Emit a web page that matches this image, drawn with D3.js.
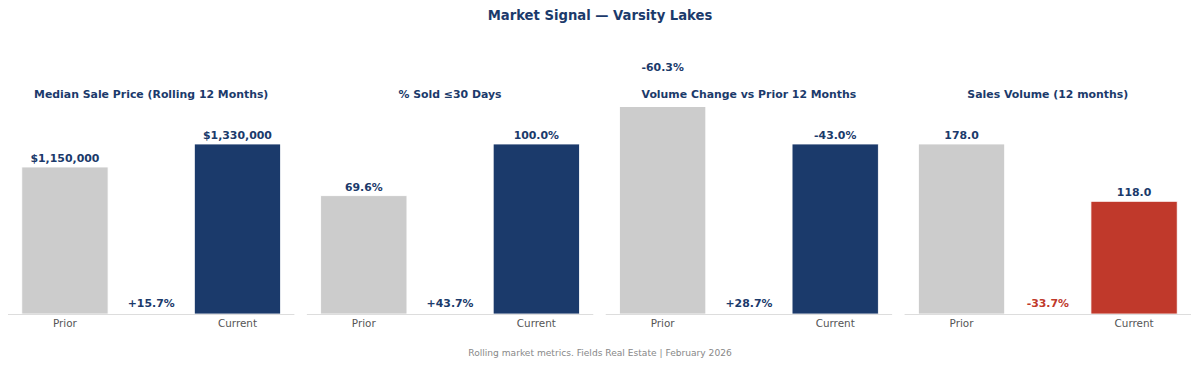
<!DOCTYPE html>
<html><head><meta charset="utf-8">
<script src="https://cdn.jsdelivr.net/npm/d3@7"></script>
<style>body{margin:0;background:#fff}text{font-family:"DejaVu Sans",sans-serif}</style>
</head><body><svg id="c" width="1200" height="367"></svg>
<script>
const title = "Market Signal — Varsity Lakes";
const footer = "Rolling market metrics. Fields Real Estate | February 2026";
const panelTitles = ["Median Sale Price (Rolling 12 Months)", "% Sold ≤30 Days", "Volume Change vs Prior 12 Months", "Sales Volume (12 months)"];
const categories = ["Prior", "Current"];
const priorValues = [1150000, 69.6, -60.3, 178.0];
const currentValues = [1330000, 100.0, -43.0, 118.0];
const priorLabels = ["$1,150,000", "69.6%", "-60.3%", "178.0"];
const currentLabels = ["$1,330,000", "100.0%", "-43.0%", "118.0"];
const changeLabels = ["+15.7%", "+43.7%", "+28.7%", "-33.7%"];
const changeUp = [true, true, true, false];

const NAVY = "#1b3a6b", RED = "#c0392b", GRAY = "#cccccc";
const svg = d3.select("#c");
svg.append("text").attr("x", 600).attr("y", 20).attr("text-anchor", "middle")
  .attr("font-size", 13.2).attr("font-weight", "bold").attr("fill", NAVY).text(title);
svg.append("text").attr("x", 600).attr("y", 356).attr("text-anchor", "middle")
  .attr("font-size", 9.1).attr("fill", "#888").text(footer);

const panelX = d3.scaleBand().domain(d3.range(4)).range([8, 1191]).paddingInner(0.0417);
const baseY = 314, topY = 144, clipTop = 107;

d3.range(4).forEach(i => {
  const x0 = panelX(i), w = panelX.bandwidth();
  const g = svg.append("g").attr("transform", `translate(${x0},0)`);
  const x = d3.scaleBand().domain(categories).range([0, w]).paddingInner(0.5).paddingOuter(0.08);
  const raw = [priorValues[i], currentValues[i]];
  const domMax = Math.abs(d3.max(raw));
  const y = d3.scaleLinear().domain([0, domMax]).range([baseY, topY]);
  const data = [
    {cat: "Prior", v: Math.abs(priorValues[i]), lab: priorLabels[i], color: GRAY},
    {cat: "Current", v: Math.abs(currentValues[i]), lab: currentLabels[i], color: changeUp[i] ? NAVY : RED}
  ];
  const clipId = "clip" + i;
  g.append("clipPath").attr("id", clipId).append("rect")
    .attr("x", 0).attr("y", clipTop).attr("width", w).attr("height", baseY - clipTop);
  g.append("g").attr("clip-path", `url(#${clipId})`).selectAll("rect").data(data).join("rect")
    .attr("x", d => x(d.cat)).attr("width", x.bandwidth())
    .attr("y", d => y(d.v)).attr("height", d => baseY - y(d.v))
    .attr("fill", d => d.color).attr("stroke", "#fff").attr("stroke-width", 0.8);
  g.append("line").attr("x1", 0).attr("x2", w).attr("y1", baseY + 0.5).attr("y2", baseY + 0.5)
    .attr("stroke", "#dddddd").attr("stroke-width", 1);
  g.selectAll("text.val").data(data).join("text").attr("class", "val")
    .attr("x", d => x(d.cat) + x.bandwidth() / 2).attr("y", d => y(d.v) - 5)
    .attr("text-anchor", "middle").attr("font-size", 10.9).attr("font-weight", "bold")
    .attr("fill", NAVY).text(d => d.lab);
  const axis = d3.axisBottom(x).tickSize(0).tickPadding(6);
  const ax = g.append("g").attr("transform", `translate(0,${baseY})`).call(axis);
  ax.select(".domain").remove();
  ax.selectAll("text").attr("font-size", 10.4).attr("fill", "#555").attr("font-family", "DejaVu Sans");
  g.append("text").attr("x", w / 2).attr("y", 98).attr("text-anchor", "middle")
    .attr("font-size", 10.9).attr("font-weight", "bold").attr("fill", NAVY).text(panelTitles[i]);
  g.append("text").attr("x", w / 2).attr("y", 307).attr("text-anchor", "middle")
    .attr("font-size", 10.9).attr("font-weight", "bold")
    .attr("fill", changeUp[i] ? NAVY : RED).text(changeLabels[i]);
});
</script></body></html>
